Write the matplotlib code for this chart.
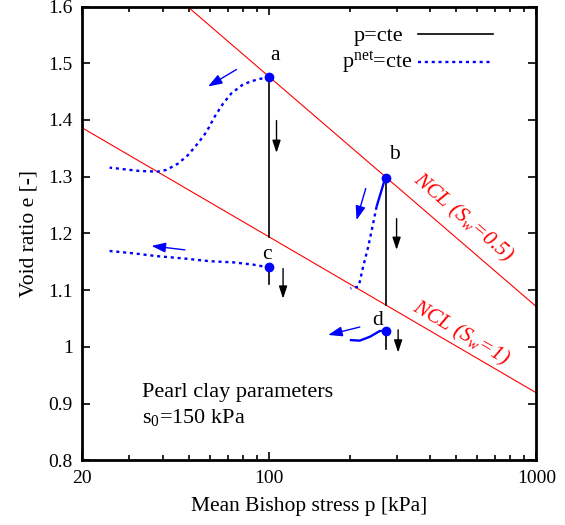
import matplotlib
matplotlib.use('Agg')
import matplotlib.pyplot as plt
from matplotlib import rcParams
from matplotlib.ticker import NullFormatter

# ---------------------------------------------------------------
# Fonts (Times-like)
# ---------------------------------------------------------------
rcParams['font.family'] = 'serif'
rcParams['font.serif'] = ['Liberation Serif', 'DejaVu Serif']
rcParams['mathtext.fontset'] = 'custom'
rcParams['mathtext.rm'] = 'Liberation Serif'
rcParams['mathtext.it'] = 'Liberation Serif:italic'
rcParams['font.size'] = 15

# ---------------------------------------------------------------
# Data
# ---------------------------------------------------------------
# normal compression lines (two end points each)
ncl_unsat_p = [49.5, 1000]
ncl_unsat_e = [1.600, 1.071]
ncl_sat_p = [20, 1000]
ncl_sat_e = [1.386, 0.919]

# state points
point_names = ['a', 'b', 'c', 'd']
point_p = [100, 275, 100, 275]
point_e = [1.476, 1.298, 1.140, 1.028]

# p = cte paths (vertical drops)
drop_p = [100, 275, 100, 275]
drop_e_top = [1.476, 1.298, 1.140, 1.028]
drop_e_bot = [1.194, 1.073, 1.111, 0.996]

# p_net = cte paths
path_a_p = [100, 89.7, 80.0, 72.3, 67.3, 62.6, 58.3, 54.2, 49.7, 45.6, 41.3, 38.4, 32.8, 25.3]
path_a_e = [1.476, 1.471, 1.463, 1.447, 1.429, 1.406, 1.379, 1.359, 1.338, 1.323, 1.312, 1.309,
            1.310, 1.316]
path_b_p = [275, 269, 263.5, 252.4, 243.8, 234.8, 224.8, 218.5, 215.3, 201.6]
path_b_e = [1.298, 1.290, 1.276, 1.247, 1.212, 1.176, 1.141, 1.115, 1.106, 1.103]
path_c_p = [100, 87.1, 73.3, 60.0, 47.6, 37.9, 31.0, 25.3]
path_c_e = [1.140, 1.145, 1.149, 1.151, 1.156, 1.160, 1.165, 1.169]
path_d_p = [275, 259.6, 238.8, 218.5, 200.5]
path_d_e = [1.028, 1.028, 1.018, 1.011, 1.012]
# number of leading segments drawn as a continuous stroke
path_solid = [0, 3, 0, 4]

# direction arrows: (p0, e0, p1, e1)
black_arrows = [(106.6, 1.399, 106.6, 1.342),
                (300, 1.226, 300, 1.171),
                (112.8, 1.138, 112.8, 1.085),
                (304, 1.030, 304, 0.990)]
blue_arrows = [(75.5, 1.489, 59.1, 1.459),
               (48.4, 1.171, 36.3, 1.178),
               (230, 1.279, 212.4, 1.2235),
               (218.5, 1.035, 166.3, 1.021)]

x_ticks = [20, 100, 1000]
x_minor = [30, 40, 50, 60, 70, 80, 90, 200, 300, 400, 500, 600, 700, 800, 900]
y_ticks = [0.8, 0.9, 1.0, 1.1, 1.2, 1.3, 1.4, 1.5, 1.6]
y_ticklabels = ['0.8', '0.9', '1', '1.1', '1.2', '1.3', '1.4', '1.5', '1.6']

# ---------------------------------------------------------------
# Styles
# ---------------------------------------------------------------
RED = '#ff0000'
BLUE = '#0000ff'
DOTTED = (0, (1.3, 1.6))
BLUE_LW = 1.7

fig = plt.figure(figsize=(5.65, 5.25), dpi=100)
ax = fig.add_axes([0.1457, 0.1232, 0.8035, 0.8644])
ax.set_xscale('log')
ax.set_xlim(20, 1000)
ax.set_ylim(0.8, 1.6)

# NCL lines
ax.plot(ncl_unsat_p, ncl_unsat_e, color=RED, lw=0.8, zorder=2)
ax.plot(ncl_sat_p, ncl_sat_e, color=RED, lw=0.8, zorder=2)

# vertical drops at constant p
for p, e0, e1 in zip(drop_p, drop_e_top, drop_e_bot):
    ax.plot([p, p], [e0, e1], color='black', lw=1.2, zorder=3)

# p_net = cte paths: solid head (if any) + dotted tail
paths = [(path_a_p, path_a_e), (path_b_p, path_b_e), (path_c_p, path_c_e), (path_d_p, path_d_e)]
for (pp, ee), ns in zip(paths, path_solid):
    if ns > 0:
        ax.plot(pp[:ns + 1], ee[:ns + 1], color=BLUE, lw=BLUE_LW, solid_capstyle='butt',
                zorder=4)
    ax.plot(pp[ns:], ee[ns:], color=BLUE, lw=BLUE_LW, linestyle=DOTTED, zorder=4)

# state points and their letters
ax.plot(point_p, point_e, 'o', color=BLUE, markersize=6, zorder=6)
letter_offsets = [(4.1, 11.9), (6.0, 13.7), (-1.7, 6.0), (-6.3, 4.1)]
for name, p, e, off in zip(point_names, point_p, point_e, letter_offsets):
    ax.annotate(name, xy=(p, e), xytext=off, textcoords='offset points',
                ha='center', va='baseline', fontsize=15.5)

# arrows
for p0, e0, p1, e1 in black_arrows:
    ax.annotate('', xy=(p1, e1), xytext=(p0, e0),
                arrowprops=dict(arrowstyle='-|>,head_length=0.75,head_width=0.25',
                                color='black', lw=1.0, mutation_scale=10,
                                shrinkA=0, shrinkB=0), zorder=5)
for p0, e0, p1, e1 in blue_arrows:
    ax.annotate('', xy=(p1, e1), xytext=(p0, e0),
                arrowprops=dict(arrowstyle='-|>,head_length=0.85,head_width=0.3',
                                color=BLUE, lw=1.0, mutation_scale=10,
                                shrinkA=0, shrinkB=0), zorder=5)

# NCL labels
ax.text(531, 1.227, r'NCL (S$_{w}$=0.5)', color=RED, style='italic', fontsize=15.5,
        rotation=-40.6, ha='center', va='center', rotation_mode='anchor')
ax.text(522, 1.024, r'NCL (S$_{w}$=1)', color=RED, style='italic', fontsize=15.5,
        rotation=-30.3, ha='center', va='center', rotation_mode='anchor')

# key
ax.text(0.7064, 0.9245, 'p=cte', transform=ax.transAxes, ha='right', va='baseline',
        fontsize=16)
ax.text(0.7265, 0.8645, r'p$^{\mathrm{net}}$=cte', transform=ax.transAxes,
        ha='right', va='baseline', fontsize=16)
ax.plot([0.7394, 0.9046], [0.9387, 0.9387], color='black', lw=1.2, transform=ax.transAxes)
ax.plot([0.7394, 0.9046], [0.8784, 0.8784], color=BLUE, lw=BLUE_LW, linestyle=DOTTED,
        transform=ax.transAxes)

# parameter note
ax.text(0.1315, 0.1505, 'Pearl clay parameters', transform=ax.transAxes,
        ha='left', va='center', fontsize=16)
ax.text(0.1315, 0.0954, r's$_{0}$=150 kPa', transform=ax.transAxes,
        ha='left', va='center', fontsize=16)

# axes and ticks
ax.set_xticks(x_ticks)
ax.set_xticklabels([str(t) for t in x_ticks])
ax.set_xticks(x_minor, minor=True)
ax.xaxis.set_minor_formatter(NullFormatter())
ax.set_yticks(y_ticks)
ax.set_yticklabels(y_ticklabels)
ax.tick_params(which='both', direction='in', top=True, right=True, width=1.2)
ax.tick_params(which='major', length=6, pad=7, labelsize=14)
ax.tick_params(which='minor', length=3.8)
for s in ax.spines.values():
    s.set_linewidth(2.0)

ax.set_xlabel('Mean Bishop stress p [kPa]', fontsize=15.5, labelpad=7)
ax.set_ylabel('Void ratio e [-]', fontsize=15.5, labelpad=7)

fig.savefig('out.png', dpi=100)
